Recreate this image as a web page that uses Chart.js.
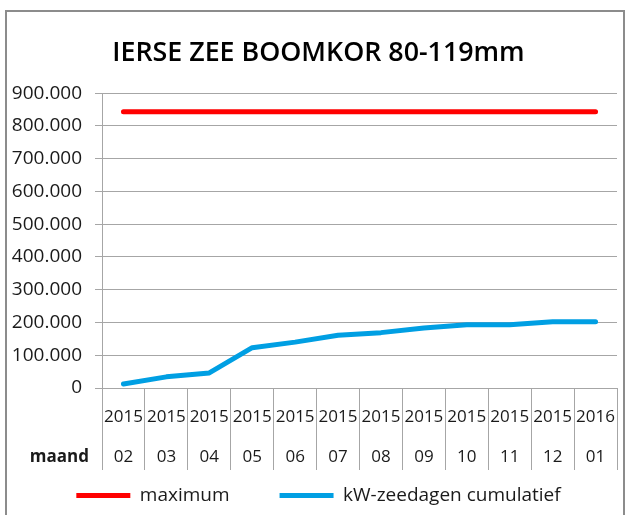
<!DOCTYPE html>
<html>
<head>
<meta charset="utf-8">
<script src="https://cdn.jsdelivr.net/npm/chart.js@4"></script>
<style>
  html, body { margin: 0; padding: 0; background: #fff; }
  canvas { display: block; }
</style>
</head>
<body>
<canvas id="boomkor" width="627" height="515"></canvas>
<script>
// Ierse Zee, boomkor 80-119mm: cumulative kW-sea-days against the ceiling
var years = ['2015', '2015', '2015', '2015', '2015', '2015', '2015', '2015', '2015', '2015', '2015', '2016'];
var months = ['02', '03', '04', '05', '06', '07', '08', '09', '10', '11', '12', '01'];
var maximum = [843000, 843000, 843000, 843000, 843000, 843000, 843000, 843000, 843000, 843000, 843000, 843000];
var cumulatief = [12000, 34000, 46000, 123000, 140000, 161000, 169000, 183000, 193000, 193000, 202000, 202000];

var FONT = "'Open Sans', sans-serif";
var GRID = '#a6a6a6';
var TEXT = '#1a1a1a';

function dotted(v) {
  return String(v).replace(/\B(?=(\d{3})+(?!\d))/g, '.');
}

// grey box round the whole figure
var frame = {
  id: 'frame',
  beforeDraw: function (chart) {
    var ctx = chart.ctx;
    ctx.save();
    ctx.strokeStyle = '#8c8c8c';
    ctx.lineWidth = 2;
    ctx.strokeRect(6, 11, 618, 520);
    ctx.restore();
  }
};

// axis boxes are kept tight so the legend sits where it should;
// let their labels draw past the box edges instead of being clipped
var labelRoom = {
  id: 'labelRoom',
  afterLayout: function (chart) {
    chart.scales.x.bottom = chart.height;
    chart.scales.y.left = 0;
  }
};

// row caption left of the month labels
var rowCaption = {
  id: 'rowCaption',
  afterDraw: function (chart) {
    var x = chart.scales.x;
    var o = x.options;
    var lh = parseFloat(o.ticks.font.lineHeight);
    var y = x.top + o.grid.tickLength + o.ticks.padding + lh * 1.5;
    var ctx = chart.ctx;
    ctx.save();
    ctx.font = 'bold 17px ' + FONT;
    ctx.fillStyle = TEXT;
    ctx.textAlign = 'right';
    ctx.textBaseline = 'middle';
    ctx.fillText('maand', 89, y);
    ctx.restore();
  }
};

var labels = years.map(function (y, i) { return [y, months[i]]; });

new Chart(document.getElementById('boomkor'), {
  type: 'line',
  data: {
    labels: labels,
    datasets: [
      {
        label: 'maximum',
        data: maximum,
        borderColor: '#ff0000',
        backgroundColor: '#ff0000',
        borderWidth: 5,
        borderCapStyle: 'round',
        borderJoinStyle: 'round',
        pointRadius: 0,
        fill: false
      },
      {
        label: 'kW-zeedagen cumulatief',
        data: cumulatief,
        borderColor: '#009fe3',
        backgroundColor: '#009fe3',
        borderWidth: 5,
        borderCapStyle: 'round',
        borderJoinStyle: 'round',
        pointRadius: 0,
        fill: false
      }
    ]
  },
  options: {
    responsive: false,
    animation: false,
    layout: { padding: { left: 20, right: 10, top: 0, bottom: 0 } },
    plugins: {
      title: {
        display: true,
        text: 'IERSE ZEE BOOMKOR 80-119mm',
        color: '#000',
        font: { family: FONT, size: 26.8, weight: '600', lineHeight: 1.2 },
        padding: { top: 37, bottom: 24 }
      },
      legend: {
        position: 'bottom',
        labels: {
          usePointStyle: true,
          pointStyle: 'line',
          pointStyleWidth: 54,
          padding: 50,
          color: TEXT,
          font: { family: FONT, size: 19 }
        }
      },
      tooltip: { enabled: false }
    },
    scales: {
      x: {
        offset: true,
        grid: {
          offset: true,
          drawOnChartArea: false,
          color: GRID,
          tickLength: 82
        },
        border: { display: true, color: GRID },
        ticks: {
          autoSkip: false,
          maxRotation: 0,
          padding: -73,
          color: TEXT,
          font: { family: FONT, size: 17, lineHeight: '40px' }
        },
        afterFit: function (scale) { scale.height = 48; }
      },
      y: {
        min: 0,
        max: 900000,
        grid: { color: GRID, tickLength: 7 },
        border: { display: true, color: GRID },
        ticks: {
          stepSize: 100000,
          padding: 13,
          color: TEXT,
          font: { family: FONT, size: 19 },
          callback: function (v) { return dotted(v); }
        },
        afterFit: function (scale) { scale.width = 82; }
      }
    }
  },
  plugins: [frame, labelRoom, rowCaption]
});
</script>
</body>
</html>
